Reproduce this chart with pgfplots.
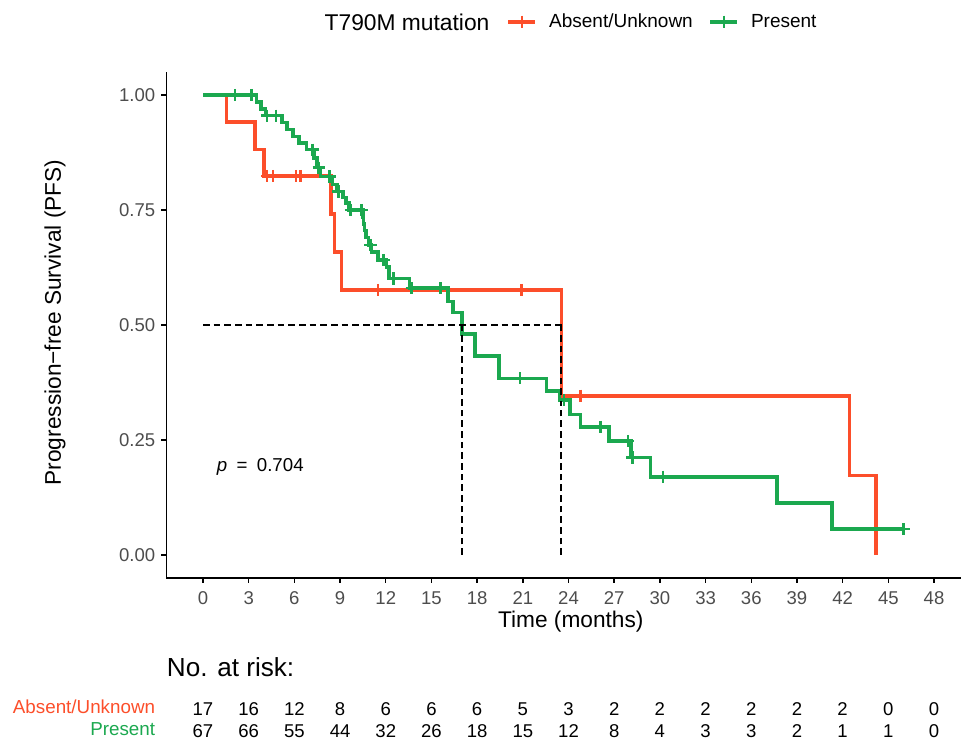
\documentclass[border=0pt]{standalone}
\usepackage{fontspec}
\setmainfont{Liberation Sans}
\usepackage{pgfplots}
\pgfplotsset{compat=1.18}
\definecolor{redc}{RGB}{252,78,42}
\definecolor{greenc}{RGB}{27,168,79}
\definecolor{tickgray}{RGB}{77,77,77}
\begin{document}
\begin{tikzpicture}
\useasboundingbox (0,0) rectangle (720.75pt,556.5pt);
\begin{axis}[
  scale only axis,
  width=595.9pt, height=379.5pt,
  at={(124.84pt,123pt)}, anchor=south west,
  xmin=-2.4, xmax=49.77, ymin=-0.05, ymax=1.05,
  axis x line=bottom, axis y line=left,
  axis line style={-, line width=1.1pt, black},
  xtick={0,3,...,48},
  ytick={0,0.25,0.5,0.75,1},
  yticklabels={0.00,0.25,0.50,0.75,1.00},
  tick align=outside,
  major tick length=3.75pt,
  tick style={line width=1.1pt, black},
  ticklabel style={font=\fontsize{13.9}{16}\selectfont, text=tickgray},
  /pgf/number format/assume math mode=true,
  xticklabel style={inner sep=0pt, anchor=north, yshift=-6pt},
  yticklabel style={inner sep=0pt, anchor=east, xshift=-4.5pt},
  xlabel={Time (months)},
  ylabel={Progression−free Survival (PFS)},
  label style={font=\fontsize{17}{20}\selectfont},
  xlabel style={at={(axis description cs:0.5089,0)}, anchor=base, yshift=-37.5pt, inner sep=0pt},
  ylabel style={at={(axis description cs:-0.1403,0.505)}, anchor=center, inner sep=0pt},
  clip=false,
  legend style={at={(axis description cs:0.4279,1.0988)}, anchor=west, draw=none, fill=none,
    legend columns=-1, font=\fontsize{14.25}{16}\selectfont, inner sep=0pt,
    /tikz/every odd column/.append style={column sep=7pt},
    /tikz/every even column/.append style={column sep=9.8pt}},
  legend image code/.code={\draw[mark repeat=2, mark phase=2, #1] plot coordinates {(0pt,0pt)(10.125pt,0pt)(20.25pt,0pt)};},
]
% Absent/Unknown curve
\addplot[const plot, redc, line width=2.6pt, forget plot] coordinates {
(0,1) (1.55,0.941) (3.4,0.882) (4.0,0.824) (8.4,0.741) (8.65,0.659) (9.1,0.576)
(23.55,0.346) (42.45,0.173) (44.2,0)};
% Present curve
\addplot[const plot, greenc, line width=2.6pt, forget plot] coordinates {
(0,1) (3.5,0.985) (3.8,0.970) (4.1,0.955) (5.2,0.940) (5.5,0.925) (5.9,0.910)
(6.3,0.896) (6.8,0.881) (7.3,0.863) (7.5,0.842) (7.7,0.823) (8.5,0.805) (8.8,0.790)
(9.2,0.777) (9.4,0.765) (9.6,0.750) (10.5,0.735) (10.55,0.72) (10.6,0.705) (10.7,0.69)
(10.85,0.674) (11.05,0.659) (11.5,0.641) (12.05,0.626) (12.2,0.601) (13.55,0.580)
(16.1,0.551) (16.4,0.527) (17.0,0.480) (17.85,0.433) (19.45,0.384) (22.55,0.357)
(23.4,0.337) (24.1,0.306) (24.8,0.278) (26.65,0.248) (28.1,0.212) (29.4,0.170)
(37.7,0.113) (41.3,0.0567) (46.0,0.0567)};
% censor marks
\addplot[only marks, redc, mark=+, mark size=4.6pt, mark options={line width=1.9pt}, forget plot] coordinates {
(4.2,0.824) (4.6,0.824) (6.1,0.824) (6.4,0.824) (11.5,0.576) (20.9,0.576) (24.8,0.346)};
\addplot[only marks, greenc, mark=+, mark size=4.6pt, mark options={line width=1.9pt}, forget plot] coordinates {
(2.1,1) (3.2,1) (4.2,0.955) (4.8,0.955) (7.2,0.881) (7.6,0.842) (8.3,0.823) (8.9,0.790)
(9.7,0.750) (10.4,0.750) (11.0,0.674) (11.85,0.641) (12.5,0.601) (13.7,0.580) (15.6,0.580)
(20.8,0.384) (23.7,0.337) (26.1,0.278) (27.9,0.248) (28.2,0.212) (30.2,0.170) (46.0,0.0567)};
% median lines
\addplot[black, line width=1.1pt, dash pattern=on 5pt off 3pt, forget plot] coordinates {(0,0.5) (23.55,0.5)};
\addplot[black, line width=1.1pt, dash pattern=on 5pt off 3pt, forget plot] coordinates {(17.0,0) (17.0,0.5)};
\addplot[black, line width=1.1pt, dash pattern=on 5pt off 3pt, forget plot] coordinates {(23.5,0) (23.5,0.5)};
% legend
\addlegendimage{redc, line width=2.6pt, mark=+, mark size=4.7pt, mark options={line width=1.9pt}}
\addlegendentry{Absent/Unknown}
\addlegendimage{greenc, line width=2.6pt, mark=+, mark size=4.7pt, mark options={line width=1.9pt}}
\addlegendentry{Present}
\node[anchor=base west, inner sep=0pt, font=\fontsize{14}{16}\selectfont] at (axis cs:0.9,0.181) {\textit{p}\hspace{0.5em}=\hspace{0.5em}0.704};
\end{axis}
\node[anchor=base west, inner sep=0pt, font=\fontsize{17.1}{20}\selectfont] at (243.3pt,533.6pt) {T790M mutation};
\node[anchor=base west, inner sep=0pt, font=\fontsize{19.6}{22}\selectfont] at (125pt,49pt) {No. at risk:};
\node[anchor=base east, inner sep=0pt, font=\fontsize{14.1}{16}\selectfont, text=redc] at (116.5pt,21.5pt) {Absent/Unknown};
\node[anchor=base east, inner sep=0pt, font=\fontsize{14.1}{16}\selectfont, text=greenc] at (116.5pt,4.7pt) {Present};
\foreach \n [count=\i from 0] in {17,16,12,8,6,6,6,5,3,2,2,2,2,2,2,0,0}
  \node[anchor=base, inner sep=0pt, font=\fontsize{13.9}{16}\selectfont] at (152.25pt+\i*34.266pt,19.5pt) {\n};
\foreach \n [count=\i from 0] in {67,66,55,44,32,26,18,15,12,8,4,3,3,2,1,1,0}
  \node[anchor=base, inner sep=0pt, font=\fontsize{13.9}{16}\selectfont] at (152.25pt+\i*34.266pt,3.5pt) {\n};
\end{tikzpicture}
\end{document}
